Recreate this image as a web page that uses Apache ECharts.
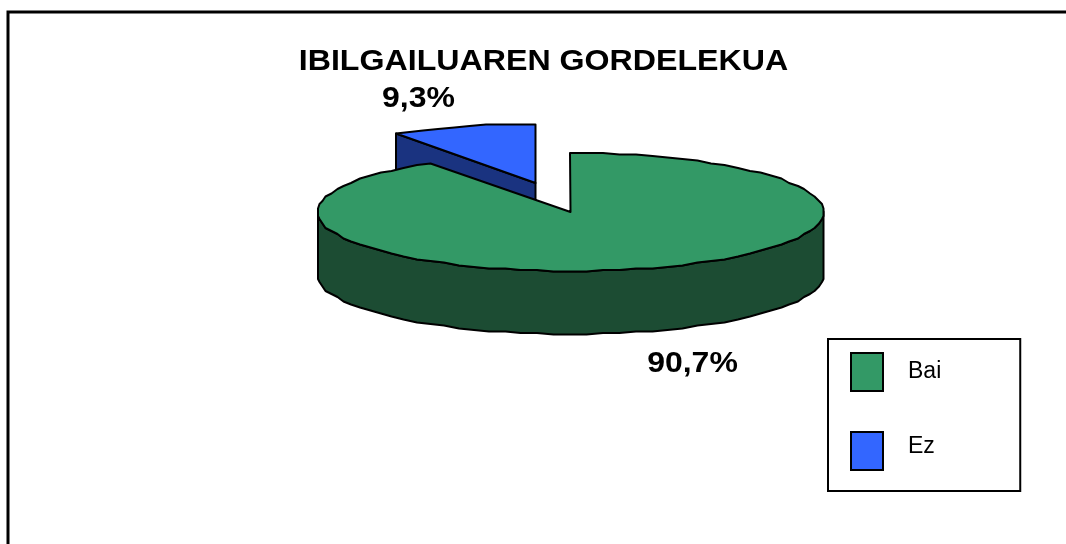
<!DOCTYPE html>
<html>
<head>
<meta charset="utf-8">
<style>html,body{margin:0;padding:0;background:#fff}#c{width:1066px;height:544px}</style>
<script src="https://cdn.jsdelivr.net/npm/echarts@6/dist/echarts.min.js"></script>
</head>
<body>
<div id="c"></div>
<script>
const titleText = 'IBILGAILUAREN GORDELEKUA';
const categories = ['Bai', 'Ez'];
const seriesValues = [90.7, 9.3];
const topColors = ['#339966', '#3366ff'];
const wallColors = ['#1c4c33', '#1a3380'];

const CX = 570.5, CY = 212, RX = 253, RY = 59, DEPTH = 63;
const EXPLODE = [[0, 0], [-35, -29]];
const LABEL_POS = [[692.5, 364], [418.5, 99]];
const TEXT_STRETCH = 1.065;
const total = seriesValues.reduce((a, b) => a + b, 0);
const startOf = i => seriesValues.slice(0, i).reduce((a, b) => a + b, 0) / total * 2 * Math.PI;

function rim(a, ox, oy, dz) {
  const q = v => Math.round(v / 1.5) * 1.5;
  return [q(CX + ox + RX * Math.sin(a)), q(CY + oy - RY * Math.cos(a)) + dz];
}
// Rim points on a fixed angular grid, so top face and wall share the same outline.
function arcPts(a0, a1, ox, oy, dz) {
  const STEP = Math.PI / 48, lo = Math.min(a0, a1), hi = Math.max(a0, a1);
  const angles = [lo];
  for (let k = Math.floor(lo / STEP) + 1; k * STEP < hi - 1e-6; k++) angles.push(k * STEP);
  angles.push(hi);
  if (a1 < a0) angles.reverse();
  return angles.map(a => rim(a, ox, oy, dz));
}
const edge = { stroke: '#000', lineWidth: 2, lineJoin: 'round' };

function renderSlice(params, api) {
  const i = params.seriesIndex === 0 ? 1 : 0; // back slice is drawn first
  const a0 = startOf(i), a1 = a0 + api.value(0) / total * 2 * Math.PI;
  const [ox, oy] = EXPLODE[i];
  const apex = [CX + ox, CY + oy];
  const children = [];
  const wall = pts => children.push({ type: 'polygon', shape: { points: pts }, style: { fill: wallColors[i], ...edge } });
  if (i === 0) {
    const front = arcPts(Math.PI / 2, 3 * Math.PI / 2, ox, oy, 0);
    const low = arcPts(3 * Math.PI / 2, Math.PI / 2, ox, oy, DEPTH);
    wall(front.concat(low));
  } else {
    const tip = rim(a0, ox, oy, 0);
    wall([tip, apex, [apex[0], apex[1] + DEPTH], [tip[0], tip[1] + DEPTH]]);
  }
  children.push({ type: 'polygon', shape: { points: [apex].concat(arcPts(a0, a1, ox, oy, 0)) }, style: { fill: topColors[i], ...edge } });
  return { type: 'group', children };
}
function renderLabels(params, api) {
  const i = api.value(1);
  return {
    type: 'text',
    x: LABEL_POS[i][0], y: LABEL_POS[i][1], scaleX: TEXT_STRETCH,
    style: {
      x: 0, y: 0,
      text: api.value(0).toFixed(1).replace('.', ',') + '%',
      font: 'bold 30px "Liberation Sans"', fill: '#000', align: 'center', verticalAlign: 'middle'
    }
  };
}

const chart = echarts.init(document.getElementById('c'), null, { renderer: 'canvas' });
chart.setOption({
  animation: false,
  backgroundColor: '#fff',
  legend: {
    data: categories,
    orient: 'vertical', left: 828, top: 339, icon: 'rect',
    itemWidth: 32, itemHeight: 38, itemGap: 39, selectedMode: false,
    padding: [13, 79, 20, 22], borderColor: '#000', borderWidth: 2, backgroundColor: '#fff',
    itemStyle: { borderColor: '#000', borderWidth: 2 },
    formatter: name => name === categories[1] ? '{up|' + name + '}' : name,
    textStyle: {
      fontFamily: 'Liberation Sans', fontSize: 23, color: '#000', padding: [0, 0, 0, 20],
      rich: { up: { fontFamily: 'Liberation Sans', fontSize: 23, color: '#000', padding: [0, 0, 8, 0] } }
    }
  },
  graphic: [
    { type: 'polyline', silent: true, shape: { points: [[8, 544], [8, 12], [1066, 12]] }, style: { stroke: '#000', lineWidth: 3, fill: null } },
    { type: 'text', silent: true, x: 543.5, y: 62, scaleX: 1.09, style: { x: 0, y: 0, text: titleText, font: 'bold 29.5px "Liberation Sans"', fill: '#000', align: 'center', verticalAlign: 'middle' } }
  ],
  series: [
    { type: 'custom', name: categories[1], coordinateSystem: 'none', renderItem: renderSlice, itemStyle: { color: topColors[1] }, data: [[seriesValues[1]]], silent: true, z: 2 },
    { type: 'custom', name: categories[0], coordinateSystem: 'none', renderItem: renderSlice, itemStyle: { color: topColors[0] }, data: [[seriesValues[0]]], silent: true, z: 3 },
    { type: 'custom', coordinateSystem: 'none', renderItem: renderLabels, data: seriesValues.map((v, i) => [v, i]), silent: true, z: 4 }
  ]
});
</script>
</body>
</html>
